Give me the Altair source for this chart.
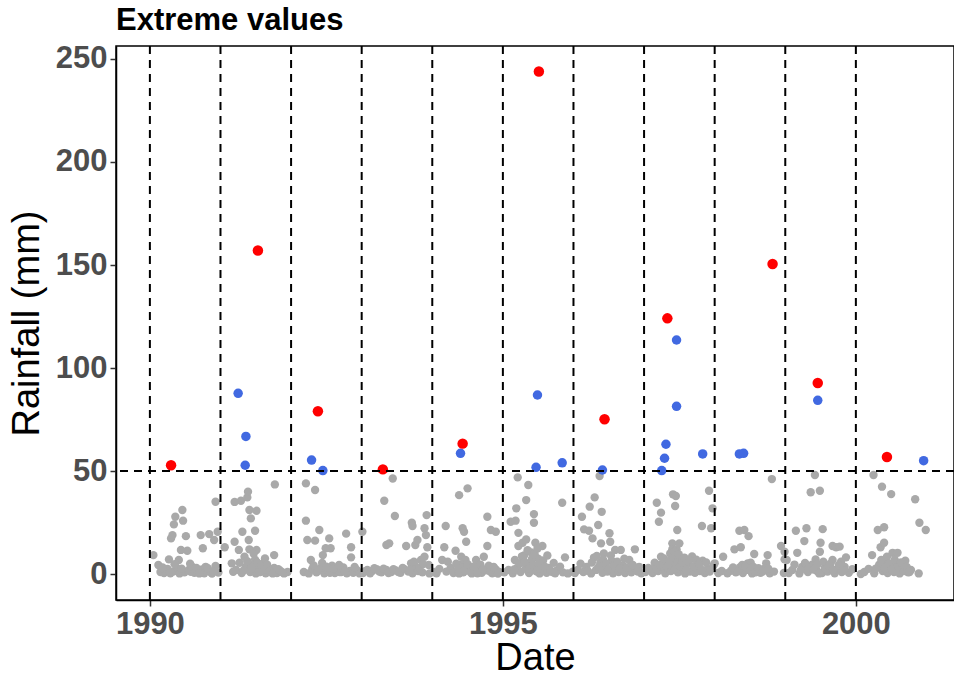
import altair as alt
import pandas as pd

# Daily rainfall (mm) against decimal year; ordinary days below the threshold
gray_points = [
    # 1990
    (1990.05, 9.2), (1990.12, 4.4), (1990.15, 1.0), (1990.20, 0.5), (1990.22, 1.8),
    (1990.25, 2.5), (1990.27, 7.1), (1990.30, 17.3), (1990.32, 18.9), (1990.33, 1.2),
    (1990.34, 24.1), (1990.36, 27.8), (1990.38, 3.0), (1990.41, 6.8), (1990.42, 0.3),
    (1990.44, 11.7), (1990.46, 31.1), (1990.47, 25.9), (1990.49, 0.8), (1990.51, 18.4),
    (1990.53, 11.3), (1990.55, 2.0), (1990.58, 1.1), (1990.60, 3.5), (1990.63, 0.6),
    (1990.68, 1.5), (1990.72, 18.9), (1990.74, 2.2), (1990.75, 12.5), (1990.77, 0.4),
    (1990.79, 3.5), (1990.84, 19.4), (1990.86, 1.0), (1990.88, 0.2), (1990.91, 16.5),
    (1990.93, 3.9), (1990.93, 35.1), (1990.96, 20.5), (1990.97, 0.7),
    (1990.18, 3.2), (1990.29, 0.4), (1990.35, 4.8), (1990.45, 2.6), (1990.57, 5.0),
    (1990.66, 3.0), (1990.70, 0.3), (1990.82, 2.8), (1990.90, 1.4),
    # 1991
    (1991.06, 13.0), (1991.16, 5.2), (1991.18, 1.1), (1991.20, 35.0), (1991.20, 15.7),
    (1991.22, 2.0), (1991.26, 11.7), (1991.29, 35.6), (1991.30, 0.5), (1991.31, 20.5),
    (1991.34, 8.4), (1991.36, 3.5), (1991.38, 37.2), (1991.39, 40.0), (1991.40, 16.5),
    (1991.41, 31.1), (1991.41, 12.0), (1991.42, 1.0), (1991.43, 27.0), (1991.46, 4.5),
    (1991.49, 21.0), (1991.49, 7.0), (1991.50, 0.3), (1991.51, 30.7), (1991.51, 11.7),
    (1991.53, 2.5), (1991.57, 1.2), (1991.60, 5.0), (1991.63, 7.6), (1991.64, 0.4),
    (1991.68, 2.0), (1991.72, 0.8), (1991.76, 3.0), (1991.76, 9.2), (1991.77, 43.5),
    (1991.80, 0.5), (1991.85, 1.5), (1991.90, 0.3), (1991.95, 1.0),
    (1991.27, 5.5), (1991.33, 1.8), (1991.38, 6.2), (1991.44, 2.8), (1991.47, 9.8),
    (1991.52, 5.6), (1991.55, 0.9), (1991.58, 3.8), (1991.62, 2.2), (1991.66, 4.6),
    (1991.70, 1.5), (1991.74, 0.3), (1991.82, 2.4), (1991.88, 0.8),
    # 1992
    (1992.18, 1.0), (1992.21, 44.0), (1992.21, 25.9), (1992.23, 16.5), (1992.25, 0.3),
    (1992.28, 6.8), (1992.30, 2.5), (1992.34, 40.8), (1992.34, 16.2), (1992.36, 0.8),
    (1992.40, 21.4), (1992.42, 3.0), (1992.45, 9.2), (1992.47, 0.4), (1992.49, 12.5),
    (1992.52, 1.8), (1992.54, 17.3), (1992.56, 12.5), (1992.58, 4.0), (1992.62, 0.5),
    (1992.66, 2.2), (1992.70, 0.9), (1992.74, 3.2), (1992.78, 19.6), (1992.79, 0.4),
    (1992.83, 1.5), (1992.85, 13.0), (1992.85, 8.1), (1992.88, 0.6), (1992.93, 2.0),
    (1992.97, 0.3),
    (1992.32, 4.2), (1992.38, 1.6), (1992.44, 5.4), (1992.50, 3.6), (1992.55, 0.6),
    (1992.60, 2.6), (1992.68, 4.4), (1992.76, 1.2), (1992.90, 3.4),
    # 1993
    (1993.01, 20.5), (1993.02, 0.5), (1993.08, 2.0), (1993.15, 1.5), (1993.22, 2.2),
    (1993.28, 0.8), (1993.32, 35.6), (1993.35, 14.1), (1993.35, 2.0), (1993.39, 14.9),
    (1993.42, 1.0), (1993.44, 46.4), (1993.47, 28.2), (1993.48, 1.8), (1993.55, 0.6),
    (1993.60, 2.5), (1993.63, 13.6), (1993.66, 1.2), (1993.70, 5.2), (1993.71, 24.9),
    (1993.72, 23.3), (1993.72, 0.4), (1993.76, 14.1), (1993.77, 3.5), (1993.79, 16.5),
    (1993.80, 1.5), (1993.84, 6.8), (1993.86, 0.8), (1993.89, 22.2), (1993.89, 8.4),
    (1993.91, 18.9), (1993.92, 28.6), (1993.93, 13.0), (1993.95, 4.4), (1993.96, 0.3),
    (1993.05, 1.4), (1993.12, 0.4), (1993.18, 2.8), (1993.25, 1.2), (1993.31, 2.6),
    (1993.38, 0.5), (1993.45, 2.4), (1993.52, 1.0), (1993.58, 3.0), (1993.68, 2.0),
    (1993.74, 6.0), (1993.82, 3.0), (1993.87, 4.8),
    # 1994
    (1994.02, 1.0), (1994.06, 0.4), (1994.10, 2.5), (1994.14, 6.8), (1994.17, 13.0),
    (1994.19, 23.3), (1994.20, 1.2), (1994.22, 6.0), (1994.26, 3.0), (1994.30, 0.5),
    (1994.33, 11.3), (1994.36, 2.0), (1994.38, 38.3), (1994.40, 4.5), (1994.41, 8.4),
    (1994.43, 22.2), (1994.44, 0.8), (1994.45, 20.5), (1994.47, 6.8), (1994.48, 15.7),
    (1994.50, 41.6), (1994.52, 2.5), (1994.56, 0.3), (1994.60, 1.5), (1994.62, 6.8),
    (1994.66, 3.2), (1994.70, 0.6), (1994.73, 8.4), (1994.76, 1.8), (1994.78, 27.8),
    (1994.78, 13.6), (1994.80, 4.0), (1994.83, 21.4), (1994.85, 0.4), (1994.90, 20.5),
    (1994.90, 2.2), (1994.95, 1.0),
    (1994.34, 5.0), (1994.38, 0.3), (1994.42, 3.0), (1994.46, 1.6), (1994.50, 4.8),
    (1994.54, 1.0), (1994.58, 3.6), (1994.64, 0.4), (1994.68, 4.6), (1994.72, 2.4),
    (1994.82, 1.2), (1994.87, 3.4), (1994.93, 0.2),
    # 1995
    (1995.02, 0.8), (1995.08, 2.0), (1995.11, 25.4), (1995.14, 0.4), (1995.17, 6.8),
    (1995.18, 25.9), (1995.19, 31.9), (1995.20, 3.0), (1995.21, 46.9), (1995.22, 20.0),
    (1995.22, 13.6), (1995.25, 1.0), (1995.28, 15.2), (1995.30, 9.0), (1995.32, 2.5),
    (1995.33, 35.9), (1995.33, 16.8), (1995.36, 43.2), (1995.37, 0.5), (1995.39, 5.5),
    (1995.40, 10.5), (1995.42, 1.8), (1995.44, 29.1), (1995.44, 24.9), (1995.46, 15.2),
    (1995.47, 3.5), (1995.50, 7.5), (1995.52, 0.3), (1995.55, 4.0), (1995.56, 13.6),
    (1995.58, 1.5), (1995.62, 0.6), (1995.65, 3.0), (1995.70, 1.0), (1995.74, 0.4),
    (1995.78, 2.0), (1995.84, 34.6), (1995.85, 0.8), (1995.88, 8.1), (1995.92, 0.3),
    (1995.99, 1.1),
    (1995.16, 2.2), (1995.24, 5.2), (1995.27, 8.6), (1995.31, 5.8), (1995.35, 11.6),
    (1995.38, 2.8), (1995.41, 7.2), (1995.43, 4.2), (1995.45, 9.6), (1995.48, 1.2),
    (1995.49, 12.4), (1995.51, 5.0), (1995.53, 2.6), (1995.57, 6.6), (1995.60, 3.4),
    (1995.63, 9.0), (1995.67, 2.0), (1995.72, 5.4), (1995.76, 1.6), (1995.81, 3.6),
    # 1996
    (1996.02, 0.5), (1996.06, 2.0), (1996.10, 5.0), (1996.12, 27.8), (1996.14, 1.0),
    (1996.15, 21.7), (1996.18, 3.5), (1996.22, 21.0), (1996.23, 32.7), (1996.25, 0.3),
    (1996.27, 17.3), (1996.29, 8.0), (1996.30, 37.2), (1996.32, 2.0), (1996.35, 23.8),
    (1996.37, 47.6), (1996.38, 5.5), (1996.39, 14.9), (1996.40, 30.2), (1996.41, 0.6),
    (1996.43, 10.0), (1996.45, 3.0), (1996.48, 1.2), (1996.51, 19.8), (1996.52, 15.7),
    (1996.54, 6.5), (1996.56, 0.4), (1996.59, 11.7), (1996.60, 2.5), (1996.64, 1.0),
    (1996.67, 11.7), (1996.70, 4.0), (1996.73, 0.5), (1996.77, 2.0), (1996.79, 6.8),
    (1996.82, 0.8), (1996.87, 12.0), (1996.88, 2.5), (1996.93, 3.5), (1996.96, 0.4),
    (1996.20, 1.6), (1996.26, 5.6), (1996.33, 8.8), (1996.36, 3.6), (1996.42, 7.0),
    (1996.46, 5.0), (1996.50, 2.4), (1996.53, 9.0), (1996.57, 4.2), (1996.62, 6.0),
    (1996.66, 2.8), (1996.72, 7.4), (1996.75, 3.2), (1996.84, 4.4), (1996.91, 1.2),
    # 1997
    (1997.02, 1.0), (1997.06, 3.0), (1997.09, 2.3), (1997.12, 0.5), (1997.15, 5.5),
    (1997.18, 34.6), (1997.20, 1.5), (1997.21, 25.4), (1997.24, 29.8), (1997.24, 8.4),
    (1997.27, 3.5), (1997.30, 0.4), (1997.32, 6.0), (1997.35, 2.0), (1997.37, 10.0),
    (1997.40, 14.9), (1997.40, 12.0), (1997.41, 38.7), (1997.42, 4.5), (1997.44, 33.0),
    (1997.45, 37.9), (1997.46, 12.0), (1997.47, 21.4), (1997.48, 0.8), (1997.50, 14.9),
    (1997.52, 7.5), (1997.55, 2.5), (1997.58, 0.3), (1997.62, 5.0), (1997.65, 1.2),
    (1997.68, 8.5), (1997.72, 0.6), (1997.75, 3.0), (1997.79, 1.5), (1997.82, 23.3),
    (1997.83, 6.5), (1997.86, 0.5), (1997.90, 2.5), (1997.92, 40.4), (1997.95, 22.2),
    (1997.97, 31.9), (1997.98, 4.0),
    (1997.17, 2.4), (1997.22, 4.6), (1997.28, 7.6), (1997.33, 3.4), (1997.36, 6.4),
    (1997.38, 1.4), (1997.41, 8.2), (1997.43, 10.8), (1997.44, 2.4), (1997.47, 6.0),
    (1997.49, 9.6), (1997.51, 3.8), (1997.54, 5.6), (1997.57, 8.0), (1997.60, 2.0),
    (1997.64, 6.6), (1997.70, 3.8), (1997.74, 7.0), (1997.78, 4.8), (1997.81, 2.2),
    (1997.88, 5.6), (1997.93, 1.2),
    # 1998
    (1998.00, 5.2), (1998.05, 0.5), (1998.10, 1.5), (1998.12, 8.4), (1998.18, 0.4),
    (1998.23, 1.6), (1998.28, 12.0), (1998.30, 0.8), (1998.35, 21.0), (1998.36, 3.3),
    (1998.37, 13.0), (1998.40, 0.5), (1998.42, 21.4), (1998.45, 2.0), (1998.47, 5.2),
    (1998.48, 18.4), (1998.51, 5.5), (1998.53, 0.3), (1998.56, 9.7), (1998.60, 1.5),
    (1998.65, 0.6), (1998.70, 2.5), (1998.73, 5.2), (1998.75, 9.2), (1998.78, 0.4),
    (1998.81, 46.1), (1998.84, 1.2), (1998.94, 13.6), (1998.98, 0.5),
    (1998.26, 3.2), (1998.33, 1.4), (1998.39, 4.4), (1998.44, 3.6), (1998.50, 1.8),
    (1998.55, 3.4), (1998.58, 0.8), (1998.62, 2.8), (1998.68, 1.2), (1998.76, 2.6),
    (1998.99, 10.8), (1998.99, 7.1),
    # 1999
    (1999.02, 6.8), (1999.05, 0.5), (1999.10, 2.0), (1999.15, 21.0), (1999.17, 10.3),
    (1999.20, 0.3), (1999.24, 3.5), (1999.27, 16.0), (1999.30, 22.2), (1999.32, 1.0),
    (1999.36, 39.7), (1999.38, 4.5), (1999.42, 48.1), (1999.43, 7.1), (1999.45, 1.5),
    (1999.49, 40.4), (1999.49, 10.8), (1999.50, 15.2), (1999.52, 0.5), (1999.53, 21.8),
    (1999.56, 3.0), (1999.60, 1.2), (1999.64, 5.0), (1999.67, 13.6), (1999.67, 6.8),
    (1999.70, 0.4), (1999.72, 13.0), (1999.74, 2.5), (1999.77, 13.3), (1999.79, 6.0),
    (1999.80, 1.0), (1999.84, 3.5), (1999.86, 8.1), (1999.90, 0.6), (1999.95, 2.3),
    (1999.13, 4.6), (1999.22, 2.0), (1999.28, 5.4), (1999.34, 3.0), (1999.40, 2.2),
    (1999.46, 4.8), (1999.48, 0.3), (1999.54, 6.0), (1999.58, 2.4), (1999.62, 4.0),
    (1999.68, 2.0), (1999.76, 4.4), (1999.82, 1.8),
    # 2000
    (2000.07, 0.0), (2000.12, 1.0), (2000.18, 2.5), (2000.23, 9.2), (2000.25, 48.1),
    (2000.26, 0.4), (2000.31, 21.4), (2000.33, 4.5), (2000.35, 13.0), (2000.37, 42.4),
    (2000.38, 1.5), (2000.40, 22.7), (2000.40, 15.2), (2000.42, 6.0), (2000.45, 0.5),
    (2000.48, 3.0), (2000.50, 38.8), (2000.52, 10.3), (2000.54, 1.0), (2000.57, 5.0),
    (2000.59, 10.3), (2000.62, 0.3), (2000.66, 2.5), (2000.70, 6.5), (2000.74, 0.8),
    (2000.78, 2.0), (2000.84, 36.3), (2000.89, 0.3), (2000.90, 24.9), (2000.99, 21.4),
    (2000.28, 2.6), (2000.36, 6.8), (2000.41, 2.8), (2000.44, 8.4), (2000.47, 5.2),
    (2000.51, 2.2), (2000.55, 7.0), (2000.60, 3.6), (2000.64, 5.6), (2000.68, 1.4),
    (2000.72, 3.4), (2000.76, 1.0),
]

# Peaks over the 50 mm threshold
blue_points = [
    (1991.25, 87.7), (1991.36, 66.8), (1991.35, 52.8), (1992.29, 55.3), (1992.45, 50.2),
    (1994.40, 58.6), (1995.47, 51.8), (1995.49, 86.9), (1995.84, 54.0), (1996.41, 50.5),
    (1997.25, 50.2), (1997.29, 56.2), (1997.31, 63.0), (1997.46, 81.4), (1997.46, 113.6),
    (1997.83, 58.3), (1998.35, 58.3), (1998.41, 58.6), (1999.46, 84.3), (2000.96, 55.0),
]

# Annual maxima
red_points = [
    (1990.30, 52.8), (1991.53, 157.0), (1992.38, 79.0), (1993.30, 50.8), (1994.43, 63.3),
    (1995.51, 243.9), (1996.44, 75.1), (1997.33, 124.1), (1998.82, 150.5), (1999.46, 92.7),
    (2000.44, 56.8),
]

threshold = [50]
year_starts = [1990, 1991, 1992, 1993, 1994, 1995, 1996, 1997, 1998, 1999, 2000]
x_ticks = [1990, 1995, 2000]
y_ticks = [0, 50, 100, 150, 200, 250]

rows = (
    [{"year": x, "mm": y, "kind": "obs"} for x, y in gray_points]
    + [{"year": x, "mm": y, "kind": "pot"} for x, y in blue_points]
    + [{"year": x, "mm": y, "kind": "max"} for x, y in red_points]
)
df = pd.DataFrame(rows)

FONT = "Liberation Sans"
x_scale = alt.Scale(domain=[1989.52, 2001.39], nice=False, zero=False)
y_scale = alt.Scale(domain=[-12.6, 256.3], nice=False, zero=False)

points = alt.Chart(df).mark_circle(opacity=1).encode(
    x=alt.X(
        "year:Q", scale=x_scale, title="Date",
        axis=alt.Axis(values=x_ticks, format="d", grid=False),
    ),
    y=alt.Y(
        "mm:Q", scale=y_scale, title="Rainfall (mm)",
        axis=alt.Axis(values=y_ticks, format="d", grid=False),
    ),
    color=alt.Color(
        "kind:N",
        scale=alt.Scale(domain=["obs", "pot", "max"], range=["#A9A9A9", "#4169E1", "#FF0000"]),
        legend=None,
    ),
    size=alt.Size(
        "kind:N",
        scale=alt.Scale(domain=["obs", "pot", "max"], range=[70, 110, 110]),
        legend=None,
    ),
)

vlines = alt.Chart(pd.DataFrame({"year": year_starts})).mark_rule(
    color="black", strokeWidth=2, strokeDash=[8, 6]
).encode(x=alt.X("year:Q", scale=x_scale))

hline = alt.Chart(pd.DataFrame({"mm": threshold})).mark_rule(
    color="black", strokeWidth=2, strokeDash=[8, 6]
).encode(y=alt.Y("mm:Q", scale=y_scale))

chart = (
    alt.layer(points, vlines, hline)
    .properties(
        width=838,
        height=554,
        autosize=alt.AutoSizeParams(type="none"),
        padding={"left": 116, "top": 46, "right": 0, "bottom": 76},
        title=alt.TitleParams(
            "Extreme values", anchor="start", frame="group", font=FONT,
            fontSize=31, fontWeight="bold", color="black", offset=6,
        ),
    )
    .configure_view(stroke="black", strokeWidth=1.5)
    .configure_axis(
        labelFont=FONT, labelFontSize=31, labelFontWeight="bold", labelColor="#4D4D4D",
        titleFont=FONT, titleFontSize=38, titleFontWeight="normal", titleColor="black",
        domainColor="black", domainWidth=1.5, tickColor="#333333", tickSize=6, tickWidth=1.5,
        labelPadding=3,
    )
    .configure_axisY(titlePadding=9)
    .configure_axisX(titlePadding=0)
)

chart.save("out.html", embed_options={"renderer": "svg", "actions": False})
